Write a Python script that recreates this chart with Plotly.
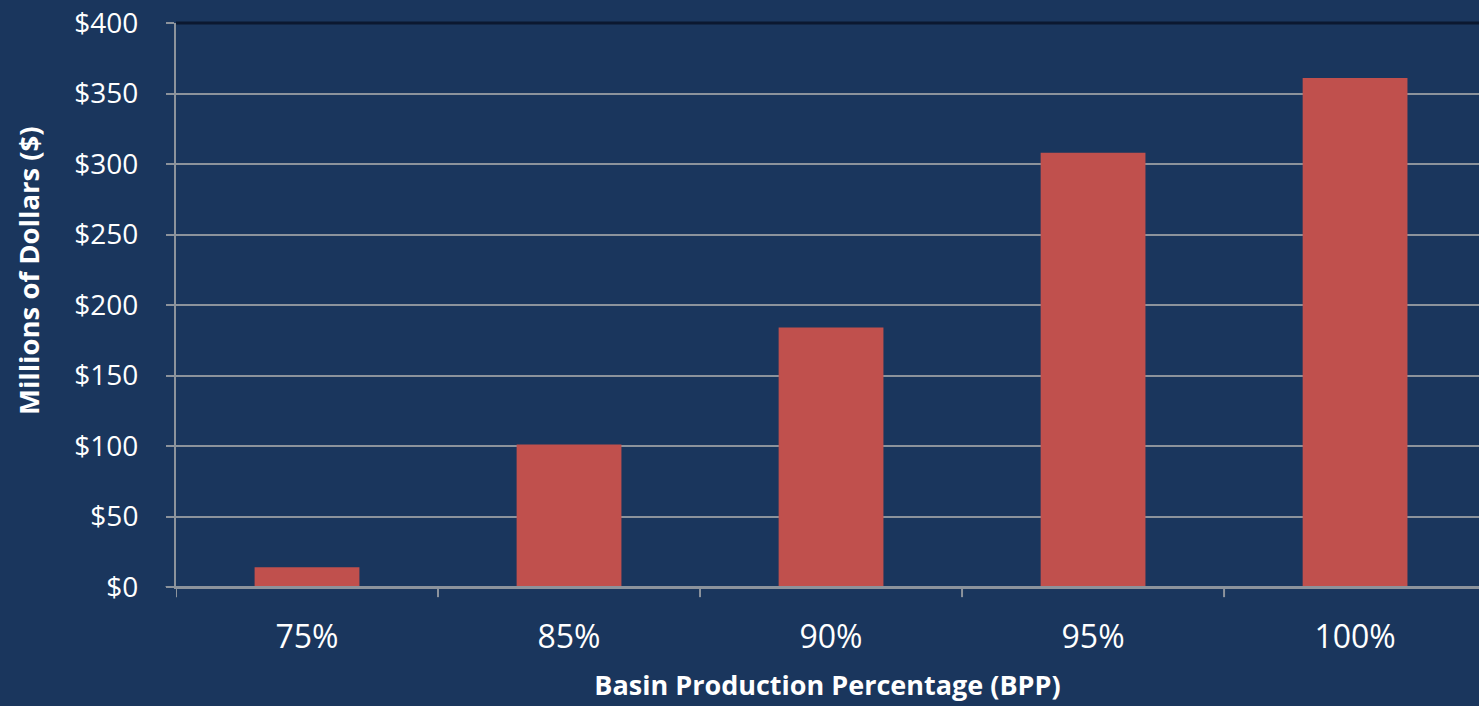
import plotly.graph_objects as go

categories = ["75%", "85%", "90%", "95%", "100%"]
values = [14, 101, 184, 308, 361]
y_tickvals = [0, 50, 100, 150, 200, 250, 300, 350, 400]
y_ticktext = ["$0", "$50", "$100", "$150", "$200", "$250", "$300", "$350", "$400"]

BG = "#1a365d"
BAR = "#c0504d"
GRID = "#8c939c"
FONT = "Open Sans"

fig = go.Figure()
fig.add_trace(go.Bar(x=list(range(len(categories))), y=values, marker=dict(color=BAR, line=dict(width=0)),
                     width=0.4, hoverinfo="skip"))

fig.update_layout(
    width=1479, height=706,
    margin=dict(l=176, r=0, t=23, b=119),
    paper_bgcolor=BG, plot_bgcolor=BG,
    showlegend=False,
    font=dict(family=FONT, color="white"),
)
fig.update_xaxes(
    tickvals=list(range(len(categories))), ticktext=categories,
    range=[-0.5, 4.473],
    showgrid=False, zeroline=False,
    showline=True, linecolor=GRID, linewidth=2,
    ticks="", tickfont=dict(size=32, color="white"),
    ticklabelstandoff=21,
    title=dict(text="<b>Basin Production Percentage (BPP)</b>", font=dict(size=27, color="white"), standoff=20),
)
# boundary tick marks on x axis
for i in range(len(categories)):
    fig.add_shape(type="line", xref="x", yref="paper", x0=i - 0.5, x1=i - 0.5, y0=0, y1=-0.018,
                  line=dict(color=GRID, width=2))
fig.update_yaxes(
    range=[0, 400], tickvals=y_tickvals, ticktext=y_ticktext,
    showgrid=True, gridcolor=GRID, gridwidth=1.5,
    zeroline=False,
    showline=True, linecolor=GRID, linewidth=2,
    ticks="outside", ticklen=8, tickcolor=GRID, tickwidth=2,
    tickfont=dict(size=28, color="white"),
    ticklabelstandoff=22,
)
# y-axis title placed as in the reference (slightly above centre)
fig.add_annotation(text="<b>Millions of Dollars ($)</b>", textangle=-90, showarrow=False,
                   xref="paper", yref="paper", x=-0.1136, y=0.562, xanchor="center", yanchor="middle",
                   font=dict(size=27.5, color="white", family=FONT))
# bottom axis line extends left
fig.add_shape(type="line", xref="paper", yref="y", x0=-0.008, x1=1, y0=0, y1=0,
              line=dict(color=GRID, width=2))
# top dark border line
fig.add_shape(type="line", xref="paper", yref="paper", x0=0, x1=1, y0=1, y1=1,
              line=dict(color="#0b1830", width=3))

fig.write_html("out.html", config={"displayModeBar": False},
               post_script="document.body.style.margin='0';document.body.style.overflow='hidden';")
